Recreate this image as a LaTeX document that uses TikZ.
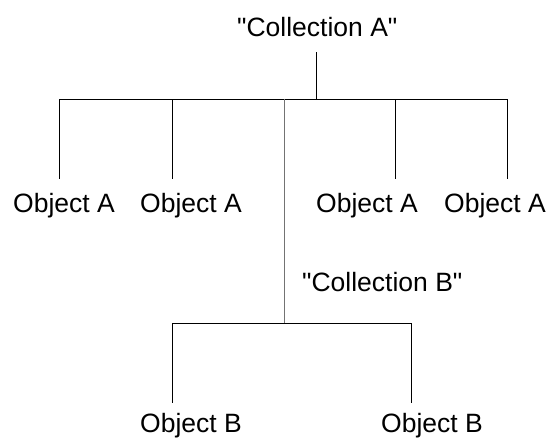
\documentclass[tikz,border=0pt]{standalone}
\usepackage{fontspec}
\newfontfamily\arialfont{Liberation Sans}[Ligatures=ResetAll]
\begin{document}
\begin{tikzpicture}[x=1pt,y=-1pt,
  lbl/.style={anchor=base west,inner sep=0pt,font=\arialfont\fontsize{26.5}{30}\selectfont},
  ln/.style={line width=1pt,black},
  gl/.style={line width=1pt,color=black!55}]
\useasboundingbox[fill=white] (0,0) rectangle (548,439);
% labels
\node[lbl] (cA) at (237,36) {"Collection A"};
\node[lbl] (oA1) at (13,212) {Object A};
\node[lbl] (oA2) at (140,212) {Object A};
\node[lbl] (oA3) at (316,212) {Object A};
\node[lbl] (oA4) at (444,212) {Object A};
\node[lbl] (cB) at (302,291) {"Collection B"};
\node[lbl] (oB1) at (140,432) {Object B};
\node[lbl] (oB2) at (381,432) {Object B};
% connector points
\coordinate (cAbot) at (316,52);
\coordinate (jA) at (316,99);
\coordinate (hL) at (59,99);
\coordinate (hR) at (507,99);
\coordinate (t1) at (59,99);   \coordinate (b1) at (59,179);
\coordinate (t2) at (172,99);  \coordinate (b2) at (172,179);
\coordinate (t3) at (395,99);  \coordinate (b3) at (395,179);
\coordinate (t4) at (507,99);  \coordinate (b4) at (507,179);
\coordinate (tm) at (284,99);  \coordinate (jB) at (284,323);
\coordinate (hBL) at (172,323); \coordinate (hBR) at (411,323);
\coordinate (bB1) at (172,403); \coordinate (bB2) at (411,403);
% connectors
\draw[ln] (cAbot) -- (jA);
\draw[ln] (hL) -- (hR);
\draw[ln] (t1) -- (b1);
\draw[ln] (t2) -- (b2);
\draw[ln] (t3) -- (b3);
\draw[ln] (t4) -- (b4);
\draw[gl] (tm) -- (jB);
\draw[ln] (hBL) -- (hBR);
\draw[ln] (hBL) -- (bB1);
\draw[ln] (hBR) -- (bB2);
\end{tikzpicture}
\end{document}
